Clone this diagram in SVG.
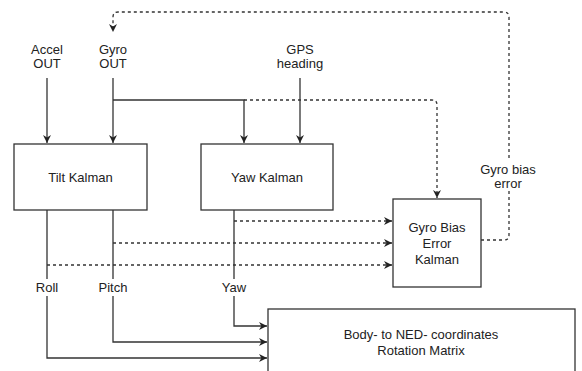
<svg xmlns="http://www.w3.org/2000/svg" width="582" height="371" viewBox="0 0 582 371">
<defs>
<marker id="arr" viewBox="0 0 10 10" refX="10" refY="5" markerWidth="8" markerHeight="8" markerUnits="userSpaceOnUse" orient="auto">
<path d="M0,0 L10,5 L0,10 L3,5 Z" fill="#222"/>
</marker>
</defs>
<style>
text{font-family:"Liberation Sans",Arial,sans-serif;font-size:13px;fill:#222;text-anchor:middle}
.box{fill:#fff;stroke:#333;stroke-width:1.3}
.ln{fill:none;stroke:#333;stroke-width:1.3}
.ds{fill:none;stroke:#333;stroke-width:1.3;stroke-dasharray:3,3}
.bg{fill:#fff}
</style>
<rect width="582" height="371" fill="#fff"/>
<g id="connectors">
<path class="ln" d="M47,78 V143" marker-end="url(#arr)"/>
<path class="ln" d="M113,78 V143" marker-end="url(#arr)"/>
<path class="ln" d="M113,100 H244 V143" marker-end="url(#arr)"/>
<path class="ln" d="M300,78 V143" marker-end="url(#arr)"/>
<path class="ds" d="M244,100 H432 Q437,100 437,105 V198" marker-end="url(#arr)"/>
<path class="ds" d="M481,240 H504 Q509,240 509,235 V17 Q509,12 504,12 H118 Q113,12 113,17 V32" marker-end="url(#arr)"/>
<path class="ds" d="M234,221 H392" marker-end="url(#arr)"/>
<path class="ds" d="M113,243 H392" marker-end="url(#arr)"/>
<path class="ds" d="M47,265 H392" marker-end="url(#arr)"/>
<path class="ln" d="M234,210 V326 H267" marker-end="url(#arr)"/>
<path class="ln" d="M113,210 V342 H267" marker-end="url(#arr)"/>
<path class="ln" d="M47,210 V358 H267" marker-end="url(#arr)"/>
<rect class="bg" x="31" y="279" width="32" height="17"/>
<text x="47" y="292">Roll</text>
<rect class="bg" x="95" y="279" width="36" height="17"/>
<text x="113" y="292">Pitch</text>
<rect class="bg" x="218" y="279" width="32" height="17"/>
<text x="234" y="292">Yaw</text>
<rect class="bg" x="477" y="160" width="62" height="31"/>
<text x="508" y="174">Gyro bias</text>
<text x="508" y="188">error</text>
</g>
<g id="accel">
<text x="47" y="54">Accel</text>
<text x="47" y="68">OUT</text>
</g>
<g id="gyro">
<text x="113" y="54">Gyro</text>
<text x="113" y="68">OUT</text>
</g>
<g id="gps">
<text x="300" y="54">GPS</text>
<text x="300" y="68">heading</text>
</g>
<g id="tilt">
<rect class="box" x="14" y="144" width="133" height="66"/>
<text x="80.5" y="181.5">Tilt Kalman</text>
</g>
<g id="yaw">
<rect class="box" x="201" y="144" width="132" height="66"/>
<text x="267" y="181.5">Yaw Kalman</text>
</g>
<g id="gyrobias">
<rect class="box" x="393" y="199" width="88" height="88"/>
<text x="437" y="232">Gyro Bias</text>
<text x="437" y="248">Error</text>
<text x="437" y="264">Kalman</text>
</g>
<g id="rotation">
<rect class="box" x="268" y="309" width="307" height="70"/>
<text x="421" y="339">Body- to NED- coordinates</text>
<text x="421" y="355">Rotation Matrix</text>
</g>
</svg>
